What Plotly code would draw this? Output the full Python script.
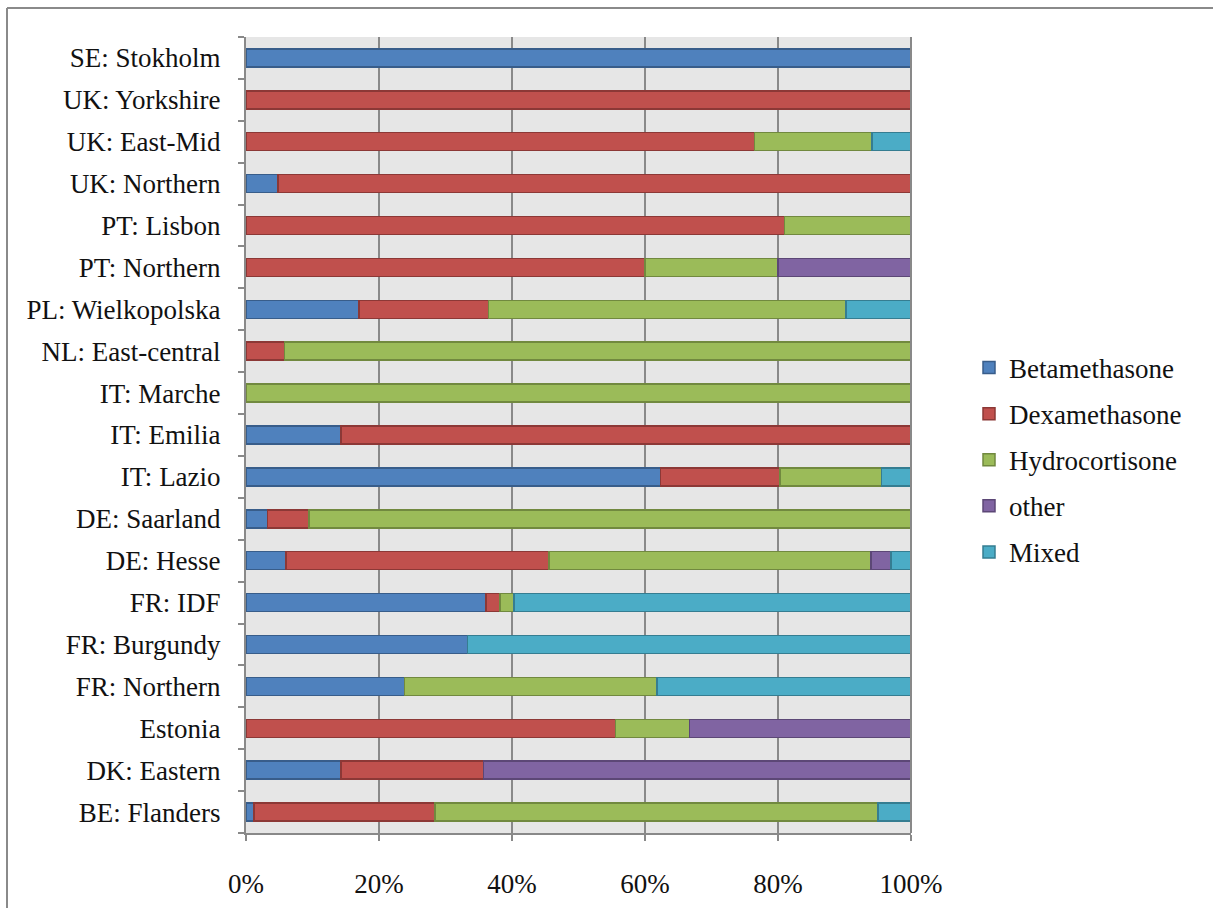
import plotly.graph_objects as go

categories = ["BE: Flanders", "DK: Eastern", "Estonia", "FR: Northern", "FR: Burgundy",
              "FR: IDF", "DE: Hesse", "DE: Saarland", "IT: Lazio", "IT: Emilia",
              "IT: Marche", "NL: East-central", "PL: Wielkopolska", "PT: Northern",
              "PT: Lisbon", "UK: Northern", "UK: East-Mid", "UK: Yorkshire", "SE: Stokholm"]

betamethasone  = [1.2, 14.3, 0, 23.8, 33.3, 36.1, 6.0, 3.2, 62.3, 14.3, 0, 0, 17.0, 0, 0, 4.8, 0, 0, 100]
dexamethasone  = [27.2, 21.4, 55.6, 0, 0, 2.1, 39.6, 6.3, 18.0, 85.7, 0, 5.8, 19.5, 60, 81.0, 95.2, 76.5, 100, 0]
hydrocortisone = [66.6, 0, 11.1, 38.0, 0, 2.1, 48.4, 90.5, 15.3, 0, 100, 94.2, 53.7, 20, 19.0, 0, 17.6, 0, 0]
other          = [0, 64.3, 33.3, 0, 0, 0, 3.0, 0, 0, 0, 0, 0, 0, 20, 0, 0, 0, 0, 0]
mixed          = [5.0, 0, 0, 38.2, 66.7, 59.7, 3.0, 0, 4.4, 0, 0, 0, 9.8, 0, 0, 0, 5.9, 0, 0]

x_tick_values = [0, 20, 40, 60, 80, 100]
x_tick_labels = ["0%", "20%", "40%", "60%", "80%", "100%"]

series = [
    ("Betamethasone", betamethasone, "#4F81BD", "#385D8A"),
    ("Dexamethasone", dexamethasone, "#C0504D", "#8C3836"),
    ("Hydrocortisone", hydrocortisone, "#9BBB59", "#71893F"),
    ("other", other, "#8064A2", "#5C4776"),
    ("Mixed", mixed, "#4BACC6", "#357D91"),
]

FONT = "Liberation Serif"

fig = go.Figure()
for i, (name, vals, fill, edge) in enumerate(series):
    fig.add_trace(go.Bar(
        y=categories, x=vals, name=name, orientation="h",
        marker=dict(color=fill, line=dict(color=edge, width=1.5)),
        legendgroup=f"g{i}",
    ))

W, H = 1213, 908
L, R, T, B = 246, W - 911, 37, H - 833
pw, ph = W - L - R, H - T - B

def px(x):
    return (x - L) / pw

def py(y):
    return (H - B - y) / ph

fig.update_layout(
    width=W, height=H,
    margin=dict(l=L, r=R, t=T, b=B, autoexpand=False),
    barmode="stack", bargap=0.57,
    paper_bgcolor="white", plot_bgcolor="#E6E6E6",
    font=dict(family=FONT, size=27, color="#111111"),
    showlegend=True,
    legend=dict(x=px(969), y=py(460), xanchor="left", yanchor="middle",
                font=dict(family=FONT, size=27, color="#111111"),
                traceorder="grouped", tracegroupgap=8,
                bgcolor="rgba(0,0,0,0)"),
    xaxis=dict(range=[0, 100], tickmode="array", tickvals=x_tick_values, ticktext=x_tick_labels,
               showgrid=True, gridcolor="#898989", gridwidth=2,
               showline=True, linecolor="#898989", linewidth=2, mirror=False,
               ticks="outside", ticklen=6, tickcolor="#898989", tickwidth=2,
               ticklabelstandoff=20, zeroline=False, fixedrange=True),
    yaxis=dict(type="category", categoryorder="array", categoryarray=categories,
               showgrid=False, showline=True, linecolor="#898989", linewidth=2,
               ticks="outside", ticklen=6, tickcolor="#898989", tickwidth=2,
               tickson="boundaries", ticklabelstandoff=18, fixedrange=True),
    shapes=[
        dict(type="line", xref="paper", yref="paper", x0=px(7), x1=px(W + 5), y0=py(8), y1=py(8),
             line=dict(color="#8A8A8A", width=2)),
        dict(type="line", xref="paper", yref="paper", x0=px(7), x1=px(7), y0=py(8), y1=py(H + 5),
             line=dict(color="#8A8A8A", width=2)),
        dict(type="line", xref="paper", yref="paper", x0=1, x1=1, y0=0, y1=1,
             line=dict(color="#898989", width=2)),
    ],
)

fig.write_html("out.html", config={"displayModeBar": False},
               post_script="document.body.style.margin='0';document.body.style.overflow='hidden';")
